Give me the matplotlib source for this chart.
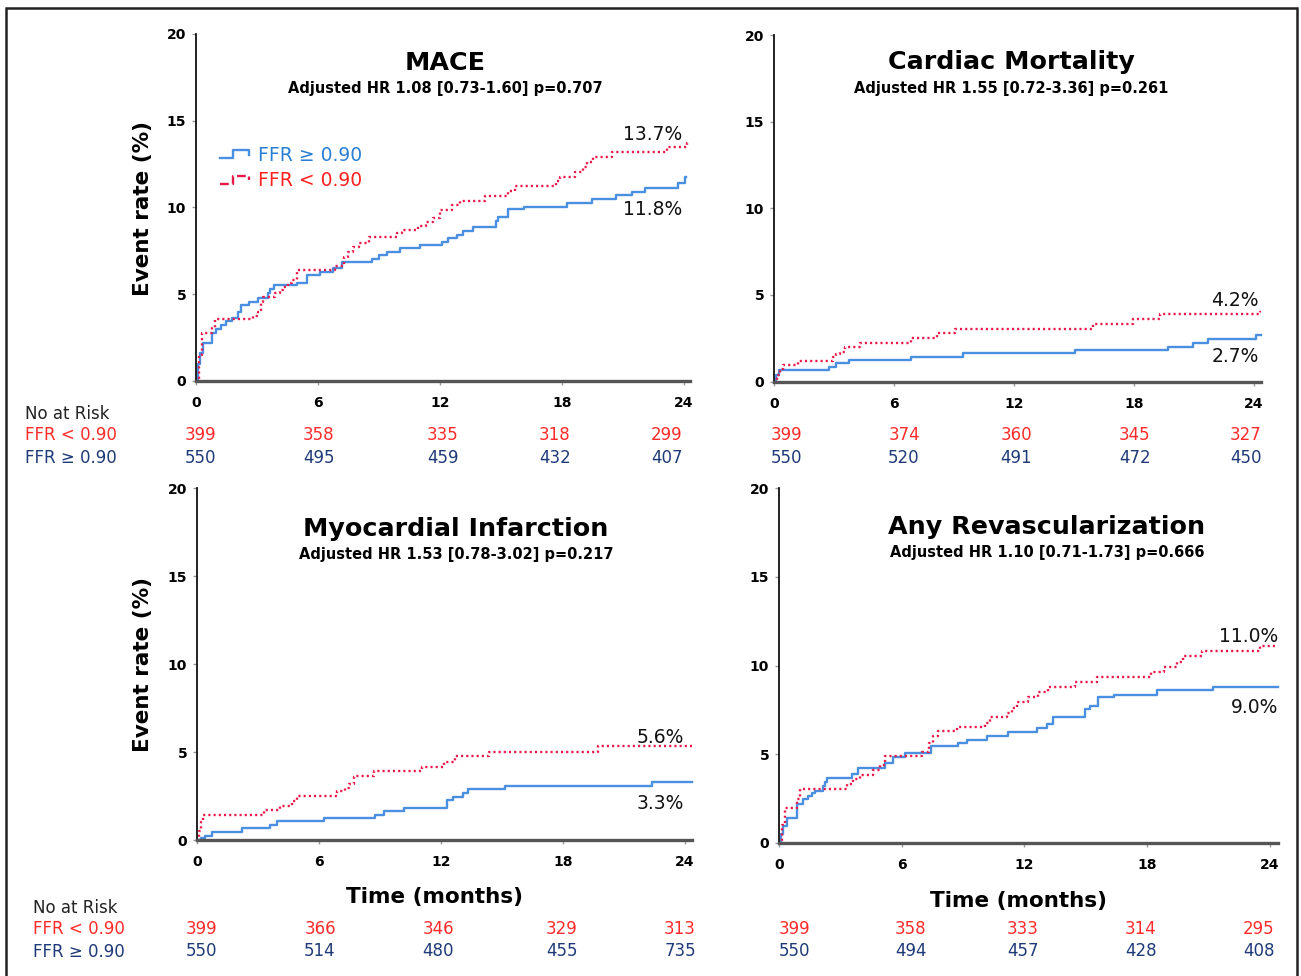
import numpy as np
import matplotlib.pyplot as plt
from matplotlib.legend_handler import HandlerBase
from matplotlib.lines import Line2D
from matplotlib.patches import Rectangle

W, H = 1301, 976

# ---- data (months, event rate %) ----
# MACE
mace_hi_t = [0, 0.1, 0.2, 0.36, 0.77, 1.0, 1.25, 1.5, 1.75, 2.08, 2.2, 2.6, 3.07, 3.56, 3.65, 3.85,
             4.95, 5.44, 6.1, 6.74, 7.2, 8.64, 9.0, 9.4, 10.03, 11.0, 12.08, 12.41, 12.82, 13.15,
             13.64, 14.76, 14.85, 15.36, 16.15, 18.23, 19.46, 20.64, 21.43, 22.09, 23.72, 24.05, 24.1]
mace_hi_v = [0, 1.0, 1.6, 2.17, 2.75, 3.0, 3.23, 3.45, 3.61, 4.0, 4.38, 4.57, 4.77, 5.1, 5.3, 5.53,
             5.63, 6.11, 6.3, 6.5, 6.84, 7.01, 7.26, 7.45, 7.65, 7.84, 8.03, 8.22, 8.41, 8.65,
             8.86, 9.2, 9.47, 9.9, 10.05, 10.28, 10.49, 10.7, 10.91, 11.12, 11.39, 11.74, 11.74]
mace_lo_t = [0, 0.15, 0.3, 0.77, 0.95, 2.82, 3.05, 3.2, 3.3, 3.89, 4.13, 4.3, 4.54, 4.7, 4.95,
             6.84, 7.3, 7.47, 7.7, 8.04, 8.53, 9.9, 10.14, 10.9, 11.3, 11.67, 12.0, 12.57, 12.98,
             14.2, 15.36, 15.69, 17.73, 17.9, 18.64, 19.05, 19.22, 19.55, 20.45, 23.15, 24.14, 24.2]
mace_lo_v = [0, 1.5, 2.75, 3.04, 3.56, 3.76, 4.0, 4.57, 4.86, 5.05, 5.24, 5.43, 5.63, 5.82, 6.4,
             6.63, 7.17, 7.45, 7.7, 7.93, 8.28, 8.51, 8.7, 8.95, 9.18, 9.37, 9.86, 10.14, 10.39,
             10.66, 10.97, 11.24, 11.53, 11.78, 12.06, 12.35, 12.64, 12.93, 13.18, 13.5, 13.73, 13.73]

# Cardiac mortality
cm_hi_t = [0, 0.1, 0.25, 2.73, 3.12, 3.74, 6.87, 9.45, 15.03, 19.7, 20.95, 21.7, 24.1, 24.35]
cm_hi_v = [0, 0.4, 0.66, 0.86, 1.05, 1.24, 1.43, 1.63, 1.82, 2.01, 2.24, 2.44, 2.67, 2.67]
cm_lo_t = [0, 0.15, 0.3, 0.45, 1.2, 2.95, 3.12, 3.29, 3.54, 4.28, 6.87, 8.17, 9.03, 15.95,
           17.95, 19.28, 24.3, 24.35]
cm_lo_v = [0, 0.4, 0.7, 0.95, 1.2, 1.43, 1.6, 1.72, 1.97, 2.24, 2.49, 2.78, 3.01, 3.32,
           3.59, 3.88, 4.0, 4.0]

# Myocardial infarction
mi_hi_t = [0, 0.2, 0.41, 0.73, 2.21, 3.6, 3.93, 6.23, 8.77, 9.18, 10.17, 12.3, 12.6, 13.1,
           13.35, 15.16, 22.37, 24.33]
mi_hi_v = [0, 0.12, 0.23, 0.48, 0.67, 0.87, 1.06, 1.25, 1.44, 1.63, 1.83, 2.27, 2.44, 2.69,
           2.88, 3.08, 3.31, 3.31]
mi_lo_t = [0, 0.1, 0.2, 0.3, 3.29, 4.08, 4.69, 4.92, 6.9, 7.3, 7.46, 7.7, 7.8, 8.69, 11.07,
           12.13, 12.7, 14.34, 19.75, 24.33]
mi_lo_v = [0, 0.5, 1.0, 1.44, 1.73, 1.96, 2.21, 2.5, 2.79, 2.98, 3.17, 3.56, 3.65, 3.9, 4.17,
           4.46, 4.75, 5.0, 5.33, 5.33]

# Any revascularization
rv_hi_t = [0, 0.1, 0.21, 0.37, 0.86, 1.19, 1.43, 1.6, 1.76, 2.17, 2.25, 2.36, 3.55, 3.88, 5.18,
           5.59, 6.16, 7.45, 8.77, 9.18, 10.16, 11.21, 12.6, 13.09, 13.42, 14.96, 15.2, 15.62,
           16.4, 18.47, 21.2, 24.4]
rv_hi_v = [0, 0.5, 0.95, 1.43, 2.19, 2.48, 2.67, 2.8, 2.95, 3.2, 3.43, 3.68, 3.91, 4.24, 4.5,
           4.87, 5.05, 5.44, 5.63, 5.82, 6.01, 6.24, 6.49, 6.71, 7.1, 7.53, 7.72, 8.2,
           8.35, 8.62, 8.81, 8.81]
rv_lo_t = [0, 0.15, 0.3, 0.87, 1.03, 3.31, 3.63, 3.96, 4.61, 4.94, 5.18, 6.98, 7.35, 7.55, 7.79,
           8.69, 10.07, 10.32, 11.13, 11.38, 11.62, 12.19, 12.68, 13.17, 14.47, 15.57, 18.18,
           18.83, 19.45, 19.77, 20.67, 23.52, 24.4]
rv_lo_v = [0, 1.0, 2.0, 2.48, 3.05, 3.34, 3.62, 3.85, 4.1, 4.38, 4.92, 5.15, 5.63, 6.01, 6.3,
           6.54, 6.77, 7.1, 7.34, 7.63, 7.92, 8.2, 8.49, 8.78, 9.06, 9.35, 9.63,
           9.92, 10.21, 10.53, 10.83, 11.11, 11.11]

titles = ['MACE', 'Cardiac Mortality', 'Myocardial Infarction', 'Any Revascularization']
subtitles = ['Adjusted HR 1.08 [0.73-1.60] p=0.707',
             'Adjusted HR 1.55 [0.72-3.36] p=0.261',
             'Adjusted HR 1.53 [0.78-3.02] p=0.217',
             'Adjusted HR 1.10 [0.71-1.73] p=0.666']
end_lo = ['13.7%', '4.2%', '5.6%', '11.0%']
end_hi = ['11.8%', '2.7%', '3.3%', '9.0%']

risk_lo = [[399, 358, 335, 318, 299], [399, 374, 360, 345, 327],
           [399, 366, 346, 329, 313], [399, 358, 333, 314, 295]]
risk_hi = [[550, 495, 459, 432, 407], [550, 520, 491, 472, 450],
           [550, 514, 480, 455, 735], [550, 494, 457, 428, 408]]

ticks_x = [0, 6, 12, 18, 24]
ticks_y = [0, 5, 10, 15, 20]

BLUE = '#4a8fe0'
RED = '#e8194a'
RISK_RED = '#ff2b2b'
RISK_BLUE = '#1f3a78'

fig = plt.figure(figsize=(W / 100, H / 100), dpi=100)


def ft(x, y, s, **kw):
    return fig.text(x / W, 1 - y / H, s, **kw)


class StepHandler(HandlerBase):
    def create_artists(self, legend, orig_handle, xdescent, ydescent, width, height,
                       fontsize, trans):
        xs = np.array([0, 0.45, 0.45, 1.0, 1.0]) * width - xdescent
        ys = np.array([0.2, 0.2, 0.8, 0.8, 0.45]) * height - ydescent
        ln = Line2D(xs, ys, color=orig_handle.get_color(), lw=orig_handle.get_linewidth(),
                    linestyle=orig_handle.get_linestyle())
        ln.set_transform(trans)
        return [ln]


# axes boxes in pixels: x0, x1 (at xmax), ytop (y=20), ybot (y=0), xmax
boxes = [(196, 690, 34, 381, 24.3),
         (774, 1261, 35, 381.5, 24.35),
         (197, 692, 488, 840, 24.35),
         (779, 1278, 488, 843, 24.4)]

curves = [(mace_hi_t, mace_hi_v, mace_lo_t, mace_lo_v),
          (cm_hi_t, cm_hi_v, cm_lo_t, cm_lo_v),
          (mi_hi_t, mi_hi_v, mi_lo_t, mi_lo_v),
          (rv_hi_t, rv_hi_v, rv_lo_t, rv_lo_v)]

title_pos = [(445, 63, 89), (1011, 62, 88), (456, 529, 555), (1047, 527, 553)]
# end-label anchor (right edge x px, y px of red label baseline, y px of blue label top)
end_pos = [(682, 140, 200), (1259, 306, 347), (684, 743, 794), (1278, 642, 698)]
risk_cols = [[201, 319, 443, 555, 667], [786, 904, 1016, 1135, 1246],
             [202, 320, 438, 562, 680], [794, 911, 1023, 1141, 1259]]
risk_rows = [(435, 458), (435, 458), (929, 951), (929, 951)]

axes = []
for i, (x0, x1, yt, yb, xmax) in enumerate(boxes):
    ax = fig.add_axes([x0 / W, 1 - yb / H, (x1 - x0) / W, (yb - yt) / H])
    th, vh, tl, vl = curves[i]
    ax.step(th, vh, where='post', color=BLUE, lw=1.7, clip_on=False, label='FFR \u2265 0.90')
    ax.step(tl, vl, where='post', color=RED, lw=1.7, linestyle=(0, (0.9, 1.3)),
            clip_on=False, label='FFR < 0.90')
    ax.set_xlim(0, xmax)
    ax.set_ylim(0, 20)
    ax.set_xticks(ticks_x)
    ax.set_yticks(ticks_y)
    for s in ['top', 'right']:
        ax.spines[s].set_visible(False)
    ax.spines['left'].set_color('#111111')
    ax.spines['left'].set_linewidth(1.3)
    ax.spines['bottom'].set_color('#555555')
    ax.spines['bottom'].set_linewidth(2.4)
    ax.tick_params(axis='x', length=3, width=1, color='#999999', pad=8, labelsize=10)
    ax.tick_params(axis='y', length=3, width=1, color='#999999', pad=4, labelsize=10)
    for lbl in ax.get_xticklabels() + ax.get_yticklabels():
        lbl.set_fontweight('bold')
    axes.append(ax)

    tx, ty, sy = title_pos[i]
    ft(tx, ty, titles[i], ha='center', va='center', fontsize=18.3, fontweight='bold')
    ft(tx, sy, subtitles[i], ha='center', va='center', fontsize=10.5, fontweight='bold')

    ex, ey_lo, ey_hi = end_pos[i]
    ft(ex, ey_lo, end_lo[i], ha='right', va='baseline', fontsize=13.5, color='#111111')
    ft(ex, ey_hi, end_hi[i], ha='right', va='top', fontsize=13.5, color='#111111')

    ry_lo, ry_hi = risk_rows[i]
    for cx, nl, nh in zip(risk_cols[i], risk_lo[i], risk_hi[i]):
        ft(cx, ry_lo, str(nl), ha='center', va='center', fontsize=12, color=RISK_RED)
        ft(cx, ry_hi, str(nh), ha='center', va='center', fontsize=12, color=RISK_BLUE)

# legend in the first panel
leg = axes[0].legend(loc='upper left', bbox_to_anchor=(0.03, 0.705), frameon=False,
                     fontsize=13.5, handlelength=1.55, handletextpad=0.45,
                     labelspacing=0.35, borderpad=0,
                     handler_map={Line2D: StepHandler()})
for txt, c in zip(leg.get_texts(), ['#2a7fd4', '#ff2020']):
    txt.set_color(c)

# axis labels
ft(143, 208, 'Event rate (%)', rotation=90, ha='center', va='center',
   fontsize=15.5, fontweight='bold')
ft(143, 665, 'Event rate (%)', rotation=90, ha='center', va='center',
   fontsize=15.5, fontweight='bold')
ft(434, 897, 'Time (months)', ha='center', va='center', fontsize=15.5, fontweight='bold')
ft(1018, 901, 'Time (months)', ha='center', va='center', fontsize=15.5, fontweight='bold')

# "No at Risk" row headers
for x, y0 in [(25, 414), (33, 908)]:
    ft(x, y0, 'No at Risk', ha='left', va='center', fontsize=12, color='#222222')
    ft(x, y0 + 21, 'FFR < 0.90', ha='left', va='center', fontsize=12, color=RISK_RED)
    ft(x, y0 + 44, 'FFR \u2265 0.90', ha='left', va='center', fontsize=12, color=RISK_BLUE)

# frame around the figure
fig.patches.append(Rectangle((6 / W, -0.02), (1297 - 6) / W, 1 - 8 / H + 0.02,
                             transform=fig.transFigure, fill=False, lw=1.8,
                             ec='#222222'))

fig.savefig('out.png', dpi=100)
